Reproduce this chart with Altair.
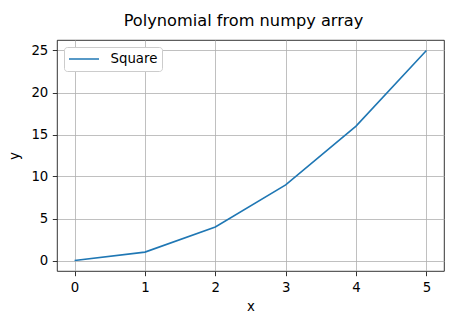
import altair as alt
import pandas as pd

# Sample points of y = x^2 drawn as a single series
xs = [0, 1, 2, 3, 4, 5]
ys = [0, 1, 4, 9, 16, 25]
series = ["Square"] * len(xs)

df = pd.DataFrame({"x": xs, "y": ys, "series": series})

font = "DejaVu Sans"
label_size = 13.3

line = (
    alt.Chart(df)
    .mark_line(strokeWidth=1.6)
    .encode(
        x=alt.X(
            "x:Q",
            title="x",
            scale=alt.Scale(domain=[-0.25, 5.25], nice=False, zero=False),
            axis=alt.Axis(values=[0, 1, 2, 3, 4, 5], format="d"),
        ),
        y=alt.Y(
            "y:Q",
            title="y",
            scale=alt.Scale(domain=[-1.25, 26.25], nice=False, zero=False),
            axis=alt.Axis(values=[0, 5, 10, 15, 20, 25], format="d"),
        ),
        color=alt.Color(
            "series:N",
            scale=alt.Scale(range=["#1f77b4"]),
            legend=alt.Legend(
                title=None,
                orient="none",
                legendX=7,
                legendY=7,
                symbolType="stroke",
                symbolSize=900,
                symbolStrokeWidth=1.6,
                clipHeight=16,
                labelFont=font,
                labelFontSize=label_size,
                labelColor="#000000",
                labelOffset=10.5,
                padding=4,
                fillColor="white",
                strokeColor="#cccccc",
                cornerRadius=3,
            ),
        ),
    )
)

chart = (
    line.properties(
        width=387,
        height=231,
        padding={"left": 57, "top": 40, "right": 10, "bottom": 53},
        autosize=alt.AutoSizeParams(type="none"),
        title=alt.TitleParams(
            "Polynomial from numpy array",
            font=font,
            fontSize=16.2,
            fontWeight="normal",
            color="#000000",
            anchor="middle",
            dx=-7,
            offset=11,
        ),
    )
    .configure_view(stroke="#000000", strokeWidth=0.8)
    .configure_axis(
        labelFont=font,
        labelFontSize=label_size,
        labelColor="#000000",
        titleFont=font,
        titleFontSize=label_size,
        titleFontWeight="normal",
        titleColor="#000000",
        domain=False,
        tickColor="#000000",
        tickWidth=0.8,
        tickSize=4.7,
        labelPadding=4.5,
        grid=True,
        gridColor="#b0b0b0",
        gridWidth=0.8,
    )
    .configure_axisX(titlePadding=6)
    .configure_axisY(titlePadding=9)
)

chart.save("out.html", embed_options={"renderer": "svg", "actions": False})
